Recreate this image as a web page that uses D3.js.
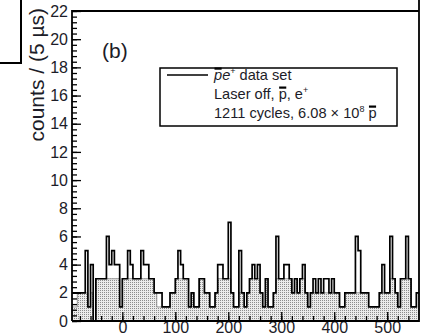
<!DOCTYPE html>
<html>
<head>
<meta charset="utf-8">
<script src="https://cdn.jsdelivr.net/npm/d3@7"></script>
<style>
  body { margin: 0; background: #fff; }
  text { font-family: "Liberation Sans", Arial, sans-serif; fill: #1c1c28; }
</style>
</head>
<body>
<svg id="chart" width="421" height="336"></svg>
<script>
// histogram binning, 5 us per bin
const binStart = -95;
const binWidth = 5;

// black outline: pe+ data set
const counts = [
  2,2,2,2,2,5,1,4,0,3, 3,3,3,6,4,5,4,4,1,3, 3,5,4,3,3,3,5,4,4,3,
  3,2,2,2,1,1,1,2,2,3, 5,4,3,3,1,2,1,1,3,3, 2,2,1,1,2,4,4,3,3,7,
  2,1,1,5,2,1,2,3,4,3, 4,2,1,3,1,1,2,6,3,3, 4,4,3,2,3,2,3,4,2,1,
  2,3,2,3,2,3,3,2,3,2, 2,1,1,2,2,2,2,6,5,2, 2,2,1,1,1,1,2,4,2,2,
  6,3,2,1,3,3,6,3,1,1, 2
];
// dotted grey filled histogram underneath
const fillCounts = [
  1,1,2,2,2,2,1,2,0,3, 3,3,3,3,3,3,3,3,1,3, 3,3,3,3,3,3,3,3,3,3,
  3,2,1,1,1,1,1,2,2,3, 3,3,3,3,1,2,1,1,3,3, 2,2,1,1,2,3,3,3,3,3,
  2,1,1,2,2,1,2,3,3,3, 3,2,1,3,1,1,2,3,3,3, 3,3,3,2,3,2,3,3,2,1,
  2,2,2,2,2,2,2,2,2,2, 2,1,1,2,2,2,2,2,2,2, 2,2,1,1,1,1,2,2,2,2,
  3,3,2,1,3,3,3,3,1,1, 2
];

const xTicks = [0, 100, 200, 300, 400, 500];
const xMinor = d3.range(-80, 560, 20);
const yTicks = d3.range(0, 23, 2);
const yMinor = d3.range(0, 22.001, 0.4);

const legendRows = [
  [{t: "p", it: 1, bar: 1}, {t: "e", it: 1}, {t: "+", sup: 1}, {t: " data set"}],
  [{t: "Laser off, "}, {t: "p", bar: 1}, {t: ", e"}, {t: "+", sup: 1}],
  [{t: "1211 cycles, 6.08 \u00d7 10"}, {t: "8", sup: 1}, {t: " "}, {t: "p", bar: 1}]
];

const svg = d3.select("#chart");
const pl = 72, pr = 419, pt = 11, pb = 321;

const x = d3.scaleLinear().domain([binStart, binStart + counts.length * binWidth]).range([pl, pr]);
const y = d3.scaleLinear().domain([0, 22]).range([pb, pt]);

const defs = svg.append("defs");
const pat = defs.append("pattern").attr("id", "dots")
  .attr("width", 2).attr("height", 2).attr("patternUnits", "userSpaceOnUse");
pat.append("rect").attr("width", 2).attr("height", 2).attr("fill", "#ebebeb");
pat.append("rect").attr("width", 1).attr("height", 1).attr("fill", "#8c8c8c");

const steps = arr => {
  const pts = arr.map((c, i) => [binStart + i * binWidth, c]);
  pts.push([binStart + arr.length * binWidth, arr[arr.length - 1]]);
  return pts;
};

// filled histogram
svg.append("path")
  .datum(steps(fillCounts))
  .attr("d", d3.area().curve(d3.curveStepAfter)
    .x(d => x(d[0])).y0(y(0)).y1(d => y(d[1])))
  .attr("fill", "url(#dots)")
  .attr("stroke", "#7a7a7a")
  .attr("stroke-width", 0.8);

// outline histogram
svg.append("path")
  .datum(steps(counts))
  .attr("d", d3.line().curve(d3.curveStepAfter).x(d => x(d[0])).y(d => y(d[1])))
  .attr("fill", "none")
  .attr("stroke", "#000")
  .attr("stroke-width", 1.7);

// axes, ticks pointing inwards
svg.append("g").attr("transform", `translate(${pl},0)`)
  .call(d3.axisLeft(y).tickValues(yTicks).tickSizeInner(-9).tickSizeOuter(0).tickPadding(4));
svg.append("g").attr("transform", `translate(${pl},0)`)
  .call(d3.axisLeft(y).tickValues(yMinor).tickSizeInner(-5).tickSizeOuter(0).tickFormat(""));
svg.append("g").attr("transform", `translate(0,${pb})`)
  .call(d3.axisBottom(x).tickValues(xTicks).tickSizeInner(-9).tickSizeOuter(0).tickPadding(1));
svg.append("g").attr("transform", `translate(0,${pb})`)
  .call(d3.axisBottom(x).tickValues(xMinor).tickSizeInner(-5).tickSizeOuter(0).tickFormat(""));

svg.selectAll(".domain").remove();
svg.selectAll(".tick line").attr("stroke", "#000").attr("stroke-width", 1.3);
svg.selectAll(".tick text").attr("font-size", 16).attr("font-family", "Liberation Sans, Arial, sans-serif").attr("fill", "#1c1c28");

// frame
svg.append("path")
  .attr("d", `M${pl},${pb}V${pt}H${pr}M${pr},0V${pb}H${pl}`)
  .attr("fill", "none").attr("stroke", "#000").attr("stroke-width", 1.8);

// piece of the neighbouring panel
svg.append("path").attr("d", "M21,0V63H0")
  .attr("fill", "none").attr("stroke", "#000").attr("stroke-width", 2);

// axis title
svg.append("text")
  .attr("transform", "translate(44,8) rotate(-90)")
  .attr("text-anchor", "end")
  .attr("font-size", 21)
  .text("counts / (5 \u00b5s)");

svg.append("text").attr("x", 102).attr("y", 58).attr("font-size", 21).text("(b)");

// legend
svg.append("rect").attr("x", 160).attr("y", 68).attr("width", 237).attr("height", 58)
  .attr("fill", "#fff").attr("stroke", "#000").attr("stroke-width", 1.5);
svg.append("line").attr("x1", 167).attr("x2", 208).attr("y1", 75).attr("y2", 75)
  .attr("stroke", "#000").attr("stroke-width", 1.6);

const baselines = [80, 99, 118];
legendRows.forEach((row, r) => {
  const t = svg.append("text").attr("x", 214).attr("y", baselines[r]).attr("font-size", 14.6);
  let raised = false;
  const bars = [];
  let idx = 0;
  row.forEach(seg => {
    const sp = t.append("tspan").text(seg.t);
    if (seg.it) sp.attr("font-style", "italic");
    if (seg.sup) { sp.attr("font-size", 9).attr("dy", raised ? 0 : -6); raised = true; }
    else if (raised) { sp.attr("dy", 6); raised = false; }
    if (seg.bar) bars.push(idx);
    idx += seg.t.length;
  });
  bars.forEach(i => {
    const e = t.node().getExtentOfChar(i);
    svg.append("rect").attr("x", e.x + 0.5).attr("y", e.y + 0.5)
      .attr("width", e.width - 1).attr("height", 2.2).attr("fill", "#000");
  });
});
</script>
</body>
</html>
